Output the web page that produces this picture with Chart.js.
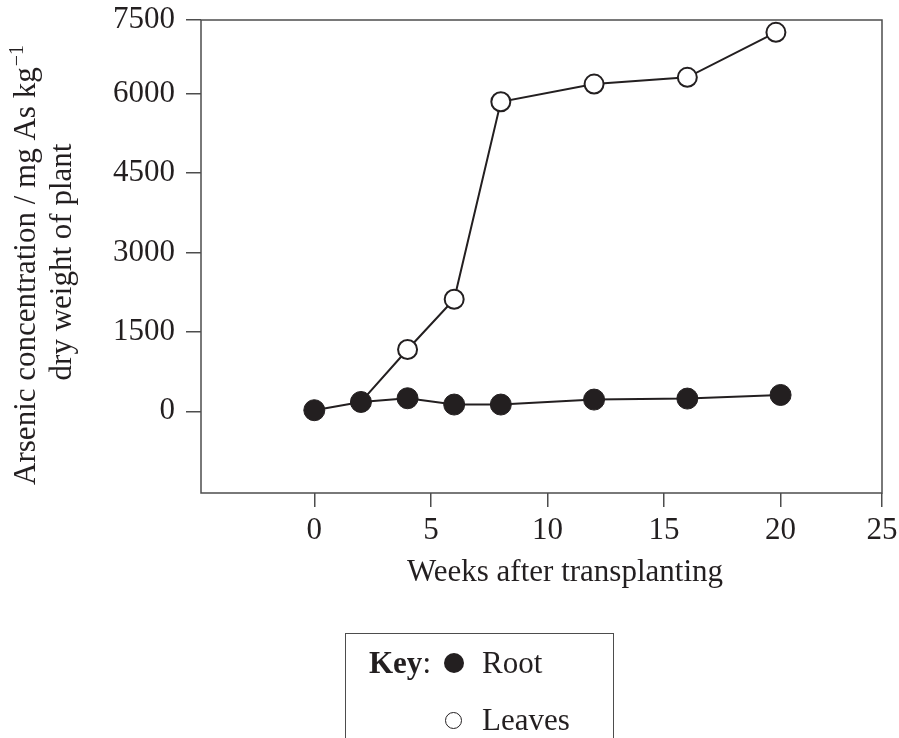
<!DOCTYPE html>
<html>
<head>
<meta charset="utf-8">
<script src="https://cdn.jsdelivr.net/npm/chart.js@4.4.0/dist/chart.umd.min.js"></script>
<style>
    html, body { margin: 0; padding: 0; background: #fff; }
    #wrap { position: relative; width: 899px; height: 738px; overflow: hidden; }
    #key {
        position: absolute; left: 345px; top: 633px; width: 269px; height: 140px;
        border: 1.5px solid #4d4d4d; box-sizing: border-box;
        font-family: "Liberation Serif", serif; font-size: 31px; color: #231f20;
    }
    #key span { position: absolute; line-height: 31px; white-space: nowrap; }
    .dot { border-radius: 50%; box-sizing: border-box; }
</style>
</head>
<body>
<div id="wrap">
    <canvas id="asChart" width="899" height="738"></canvas>
    <div id="key">
        <span style="left:23px; top:13px;"><b>Key</b>:</span>
        <span class="dot" style="left:98px; top:19px; width:20px; height:20px; background:#231f20;"></span>
        <span style="left:136px; top:13px;">Root</span>
        <span class="dot" style="left:99px; top:78px; width:17px; height:17px; border:1.5px solid #231f20;"></span>
        <span style="left:136px; top:70px;">Leaves</span>
    </div>
</div>
<script>
const weeks = [0, 2, 4, 6, 8, 12, 16, 20];
const rootAs = [20, 176, 246, 127, 127, 221, 240, 308];

// leaves line starts from the root point at week 2
const leafWeeks = [2, 4, 6, 8, 12, 16, 19.8];
const leafAs = [176, 1167, 2118, 5850, 6185, 6312, 7163];

const xTickValues = [0, 5, 10, 15, 20];
const xTickLabels = ['0', '5', '10', '15', '20', '25'];
const yTickValues = [0, 1500, 3000, 4500, 6000];
const yTickLabels = ['0', '1500', '3000', '4500', '6000', '7500'];

const xTitle = 'Weeks after transplanting';
const yTitle = ['Arsenic concentration / mg As kg', 'dry weight of plant'];
const ySup = '\u22121';

// the printed frame ends a little short of the last tick spacing,
// so the last label ("25" / "7500") sits on the frame edge
const X_MIN = -4.86, X_MAX = 24.35;
const Y_MIN = -1545, Y_MAX = 7396;

const ink = '#231f20';
const frame = '#4d4d4d';
const font = '"Liberation Serif", serif';

const framePlugin = {
    id: 'frame',
    beforeDatasetsDraw(chart) {
        const a = chart.chartArea;
        const ctx = chart.ctx;
        ctx.save();
        ctx.strokeStyle = frame;
        ctx.lineWidth = 1.5;
        ctx.strokeRect(a.left, a.top, a.right - a.left, a.bottom - a.top);
        ctx.restore();
    },
    afterDraw(chart) {
        const ctx = chart.ctx;
        ctx.save();
        ctx.fillStyle = ink;

        // x title
        ctx.font = '31px ' + font;
        ctx.textAlign = 'center';
        ctx.textBaseline = 'alphabetic';
        ctx.fillText(xTitle, 565, 581);

        // y title line 1 with superscript
        ctx.save();
        ctx.translate(35, 265);
        ctx.rotate(-Math.PI / 2);
        ctx.font = '31px ' + font;
        const w1 = ctx.measureText(yTitle[0]).width;
        ctx.font = '20px ' + font;
        const w2 = ctx.measureText(ySup).width;
        const start = -(w1 + w2 + 1) / 2;
        ctx.textAlign = 'left';
        ctx.font = '31px ' + font;
        ctx.fillText(yTitle[0], start, 0);
        ctx.font = '20px ' + font;
        ctx.fillText(ySup, start + w1 + 1, -12);
        ctx.restore();

        // y title line 2
        ctx.save();
        ctx.translate(71, 262);
        ctx.rotate(-Math.PI / 2);
        ctx.font = '31px ' + font;
        ctx.textAlign = 'center';
        ctx.fillText(yTitle[1], 0, 0);
        ctx.restore();

        ctx.restore();
    }
};

const ctx = document.getElementById('asChart').getContext('2d');
new Chart(ctx, {
    type: 'line',
    data: {
        datasets: [
            {
                label: 'Root',
                data: weeks.map((w, i) => ({ x: w, y: rootAs[i] })),
                borderColor: ink,
                borderWidth: 2,
                backgroundColor: ink,
                pointBackgroundColor: ink,
                pointBorderColor: ink,
                pointBorderWidth: 1,
                pointRadius: 10.5,
                tension: 0,
                order: 0
            },
            {
                label: 'Leaves',
                data: leafWeeks.map((w, i) => ({ x: w, y: leafAs[i] })),
                borderColor: ink,
                borderWidth: 2,
                pointBackgroundColor: '#fff',
                pointBorderColor: ink,
                pointBorderWidth: 2,
                pointRadius: c => c.dataIndex === 0 ? 0 : 9.5,
                tension: 0,
                order: 1
            }
        ]
    },
    options: {
        responsive: false,
        animation: false,
        layout: { padding: { left: 0, right: 17, top: 20, bottom: 0 } },
        plugins: { legend: { display: false }, tooltip: { enabled: false } },
        scales: {
            x: {
                type: 'linear',
                min: X_MIN,
                max: X_MAX,
                afterBuildTicks: s => { s.ticks = xTickValues.concat([X_MAX]).map(v => ({ value: v })); },
                afterFit: s => { s.height = 245; s.paddingLeft = 0; s.paddingRight = 0; },
                border: { display: false },
                grid: { drawOnChartArea: false, drawTicks: true, tickLength: 14, color: frame, lineWidth: 1.5 },
                ticks: {
                    color: ink,
                    font: { family: font, size: 31 },
                    padding: 5,
                    maxRotation: 0,
                    autoSkip: false,
                    callback: (v, i) => xTickLabels[i]
                }
            },
            y: {
                min: Y_MIN,
                max: Y_MAX,
                afterBuildTicks: s => { s.ticks = yTickValues.concat([Y_MAX]).map(v => ({ value: v })); },
                afterFit: s => { s.width = 201; s.paddingTop = 0; s.paddingBottom = 0; },
                border: { display: false },
                grid: { drawOnChartArea: false, drawTicks: true, tickLength: 15, color: frame, lineWidth: 1.5 },
                ticks: {
                    color: ink,
                    font: { family: font, size: 31 },
                    padding: 11,
                    autoSkip: false,
                    callback: (v, i) => yTickLabels[i]
                }
            }
        }
    },
    plugins: [framePlugin]
});
</script>
</body>
</html>
